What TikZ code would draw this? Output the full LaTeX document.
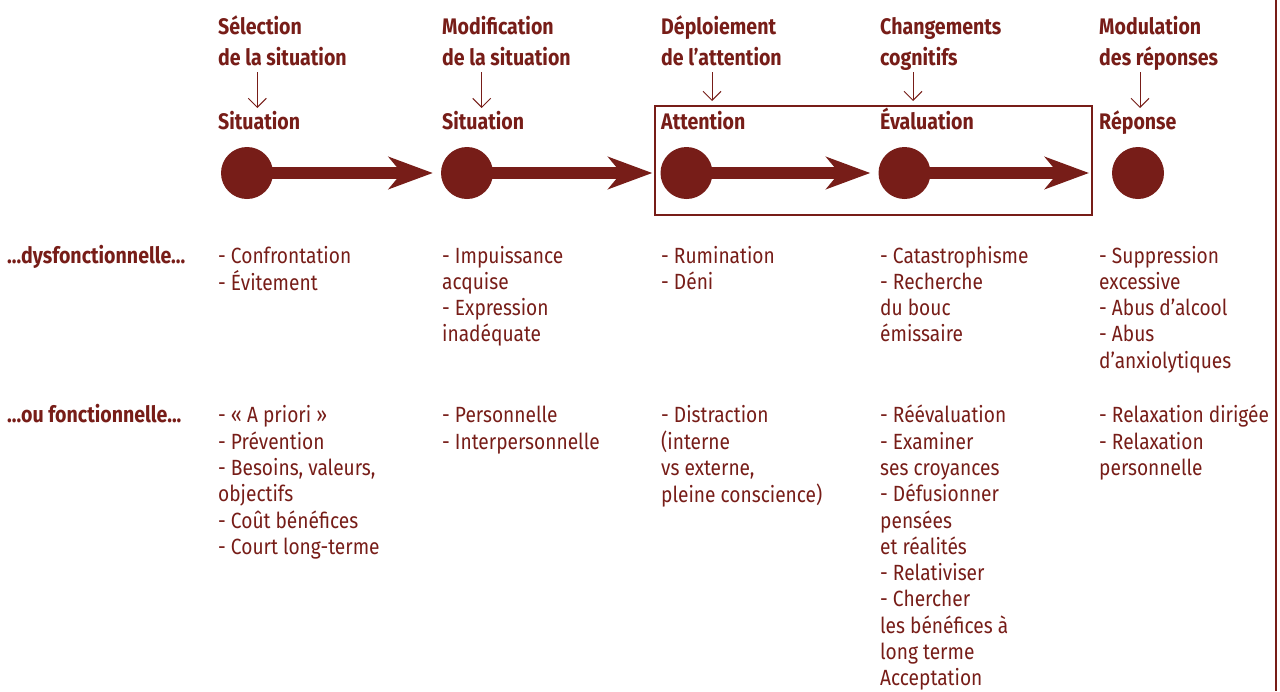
\documentclass[tikz,border=0pt]{standalone}
\usepackage{fontspec}
\setmainfont{Fira Sans}[FakeStretch=0.87]
\usetikzlibrary{arrows.meta}
\definecolor{dred}{HTML}{771D18}
\newcommand\hdrfont{\fontsize{22.5}{31.3}\selectfont\bfseries}
\newcommand\bodyfont{\fontsize{22}{26.3}\selectfont}
\newcommand\blk[1]{\begin{tabular}[t]{@{}l@{}}#1\end{tabular}}
\tikzset{
  hdr/.style={anchor=base west, inner sep=0pt, font=\hdrfont, text=dred},
  body/.style={anchor=base west, inner sep=0pt, font=\bodyfont, text=dred},
  dot/.style={circle, fill=dred, minimum size=52pt, inner sep=0pt},
  bigarr/.style={draw=dred, line width=12pt, -{Stealth[length=44pt, width=32pt, inset=13pt, fill=dred]}, shorten >=8pt},
  downarr/.style={draw=dred, line width=1pt, -{Straight Barb[length=9pt, width=18pt, line width=1pt]}},
  framebox/.style={draw=dred, line width=1.2pt}
}
\begin{document}
\begin{tikzpicture}[x=1pt, y=-1pt]
\useasboundingbox (0,0) rectangle (1280,691);
\fill[white] (0,0) rectangle (1280,691);
% right rule
\coordinate (rtop) at (1276,0);
\coordinate (rbot) at (1276,691);
\draw[dred, line width=1.5pt] (rtop) -- (rbot);
% frame
\coordinate (fa) at (655,106);
\coordinate (fb) at (1092,215);
\draw[framebox] (fa) rectangle (fb);
% headers
\node[hdr] (h1) at (218,34.3) {\blk{Sélection\\de la situation}};
\node[hdr] (h2) at (442,34.3) {\blk{Modification\\de la situation}};
\node[hdr] (h3) at (661,34.3) {\blk{Déploiement\\de l’attention}};
\node[hdr] (h4) at (880,34.3) {\blk{Changements\\cognitifs}};
\node[hdr] (h5) at (1099,34.3) {\blk{Modulation\\des réponses}};
% stage labels
\node[hdr] (s1) at (218,129.5) {Situation};
\node[hdr] (s2) at (442,129.5) {Situation};
\node[hdr] (s3) at (661,129.5) {Attention};
\node[hdr] (s4) at (880,129.5) {Évaluation};
\node[hdr] (s5) at (1099,129.5) {Réponse};
% down arrows
\coordinate (t1) at (257.3,72); \coordinate (b1) at (257.3,108);
\coordinate (t2) at (481.7,72); \coordinate (b2) at (481.7,108);
\coordinate (t3) at (712,72);   \coordinate (b3) at (712,101);
\coordinate (t4) at (913,72);   \coordinate (b4) at (913,101);
\coordinate (t5) at (1140,72);  \coordinate (b5) at (1140,108);
\draw[downarr] (t1) -- (b1);
\draw[downarr] (t2) -- (b2);
\draw[downarr] (t3) -- (b3);
\draw[downarr] (t4) -- (b4);
\draw[downarr] (t5) -- (b5);
% circles
\node[dot] (c1) at (247,173) {};
\node[dot] (c2) at (467,173) {};
\node[dot] (c3) at (686.5,173) {};
\node[dot] (c4) at (904.5,173) {};
\node[dot] (c5) at (1138,173) {};
\coordinate (e4) at (1097,173);
\draw[bigarr] (c1.center) -- (c2);
\draw[bigarr] (c2.center) -- (c3);
\draw[bigarr] (c3.center) -- (c4);
\draw[bigarr] (c4.center) -- (e4);
% row labels
\node[hdr] (r1) at (7,263) {...dysfonctionnelle...};
\node[hdr] (r2) at (7,422.8) {...ou fonctionnelle...};
% row 1
\node[body] (d1) at (218,263) {\blk{- Confrontation\\- Évitement}};
\node[body] (d2) at (442,263) {\blk{- Impuissance\\acquise\\- Expression\\inadéquate}};
\node[body] (d3) at (661,263) {\blk{- Rumination\\- Déni}};
\node[body] (d4) at (880,263) {\blk{- Catastrophisme\\- Recherche\\du bouc\\émissaire}};
\node[body] (d5) at (1099,263) {\blk{- Suppression\\excessive\\- Abus d’alcool\\- Abus\\d’anxiolytiques}};
% row 2
\node[body] (f1) at (218,422.8) {\blk{- «~A priori~»\\- Prévention\\- Besoins, valeurs,\\objectifs\\- Coût bénéfices\\- Court long-terme}};
\node[body] (f2) at (442,422.8) {\blk{- Personnelle\\- Interpersonnelle}};
\node[body] (f3) at (661,422.8) {\blk{- Distraction\\(interne\\vs externe,\\pleine conscience)}};
\node[body] (f4) at (880,422.8) {\blk{- Réévaluation\\- Examiner\\ses croyances\\- Défusionner\\pensées\\et réalités\\- Relativiser\\- Chercher\\les bénéfices à\\long terme\\Acceptation}};
\node[body] (f5) at (1099,422.8) {\blk{- Relaxation dirigée\\- Relaxation\\personnelle}};
\end{tikzpicture}
\end{document}
